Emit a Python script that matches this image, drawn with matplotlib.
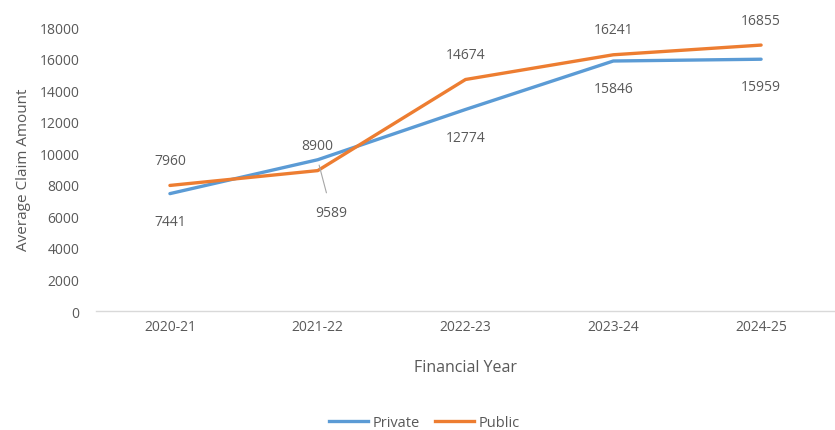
import matplotlib.pyplot as plt
from matplotlib.lines import Line2D

years = ["2020-21", "2021-22", "2022-23", "2023-24", "2024-25"]
private = [7441, 9589, 12774, 15846, 15959]
public = [7960, 8900, 14674, 16241, 16855]

BLUE = "#5B9BD5"
ORANGE = "#ED7D31"
GREY = "#595959"

plt.rcParams["font.family"] = ["Open Sans", "DejaVu Sans"]

fig = plt.figure(figsize=(8.35, 4.31), dpi=100)
ax = fig.add_axes([0.115, 0.276, 0.885, 0.659])

x = range(len(years))
ax.plot(x, private, color=BLUE, lw=2.4, solid_capstyle="round", zorder=3)
ax.plot(x, public, color=ORANGE, lw=2.4, solid_capstyle="round", zorder=3)

# data labels: public above, private below
for i, v in enumerate(public):
    ax.annotate(str(v), (i, v), xytext=(0, 18), textcoords="offset points",
                ha="center", va="center", fontsize=10, color=GREY)
for i, v in enumerate(private):
    if i == 1:
        ax.annotate(str(v), (i, v), xytext=(10, -38), textcoords="offset points",
                    ha="center", va="center", fontsize=10, color=GREY,
                    arrowprops=dict(arrowstyle="-", color="#A6A6A6", lw=0.8,
                                    shrinkA=7, shrinkB=4))
    else:
        ax.annotate(str(v), (i, v), xytext=(0, -20), textcoords="offset points",
                    ha="center", va="center", fontsize=10, color=GREY)

ax.set_xlim(-0.5, len(years) - 0.5)
ax.set_ylim(0, 18000)
ax.set_yticks(range(0, 18001, 2000))
ax.set_xticks(list(x))
ax.set_xticklabels(years)
ax.tick_params(axis="both", length=0, labelsize=10, labelcolor=GREY)
ax.tick_params(axis="y", pad=12)
ax.tick_params(axis="x", pad=6)

for side in ["top", "right", "left"]:
    ax.spines[side].set_visible(False)
ax.spines["bottom"].set_color("#D9D9D9")
ax.spines["bottom"].set_linewidth(1.0)

ax.set_xlabel("Financial Year", fontsize=11.5, color=GREY, labelpad=18)
ax.set_ylabel("Average Claim Amount", fontsize=11, color=GREY, labelpad=6)

handles = [Line2D([], [], color=BLUE, lw=2.4), Line2D([], [], color=ORANGE, lw=2.4)]
fig.legend(handles, ["Private", "Public"], loc="center", bbox_to_anchor=(0.508, 0.018),
           ncol=2, frameon=False, fontsize=10.5, labelcolor=GREY,
           handlelength=2.7, columnspacing=1.0, handletextpad=0.3)

fig.savefig("out.png", dpi=100)
